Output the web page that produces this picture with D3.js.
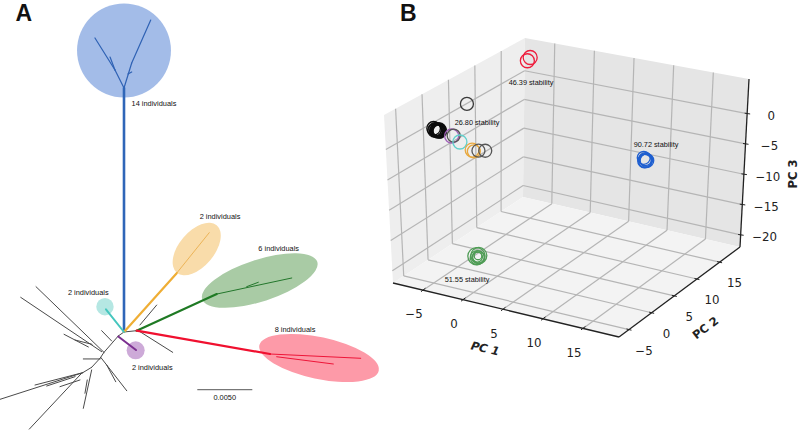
<!DOCTYPE html>
<html><head><meta charset="utf-8">
<script src="https://cdn.jsdelivr.net/npm/d3@7"></script>
<style>html,body{margin:0;padding:0;background:#fff}svg{display:block}</style>
</head><body><svg id="c" width="800" height="430"></svg>
<script>
// ---------- Panel A data: tree in units of 0.001 substitutions ----------
const cladeColors = ["#a3bce8","#b5e7e3","#cdaad8","#f9dcaa","#a9cba5","#fd9aa8"];
const cladeCx = [0,-1.73,1.06,6.61,12.34,17.73];
const cladeCy = [-25.59,-2.3,1.66,-7.55,-4.68,2.36];
const cladeRx = [4.27,0.79,0.82,2.82,5.5,5.55];
const cladeRy = [4.27,0.79,0.82,1.6,1.9,1.9];
const cladeTilt = [0,0,0,-50,-18,12];
const blackBranches = [
 [0,0,1.15,-.12],[0,0,-.52,.36],[-.52,.36,-1.82,1.85],[-1.82,1.85,-2.18,2.39],[-2.18,2.39,-2.94,3.21],
 [-1.82,1.85,-8,-4.12],[-2.03,1.79,-9.39,-3.15],[-3.24,1.36,-5.45,.21],[-2.91,1.12,-4.45,.73],
 [-2.03,-.12,-1.12,.82],[-3.7,2.45,-2.18,2.45],[-2.12,2.3,.25,5.34],[-1.57,3,-.75,4.52],
 [-2.94,3.21,-3.75,3.7],[-3.75,3.7,-11.27,6.12],[-3.75,3.7,-8.09,4.82],[-4.45,4.06,-7.03,4.91],
 [-4,4.36,-5.82,4.97],[-2.94,3.45,-3.7,6.94],[-3.34,4.36,-3.55,5.57],[-3.85,3.75,-8.61,8.83],
 [1.45,-.64,2.97,-2.45],[1.45,-.03,4.43,1.85]];
const thinBlue = [[0,-22.18,-.82,-23.82],[-.82,-23.82,-2.64,-26.73],[-.82,-23.82,-1.27,-25],[0,-22.18,.7,-24.45],[.7,-24.45,2.43,-28.36],[.36,-23.45,.7,-23.64]];
const thinOrange = [[4.79,-5.35,7.75,-9.03]];
const thinGreen = [[8.43,-3.45,15.25,-4.91],[11.15,-4.12,12.21,-4.52]];
const thinRed = [[13.27,2,21.52,2.39],[13.88,2.25,19.03,2.91]];
const stemBranches = [[0,-.05,0,-22.18],[0,0,4.79,-5.35],[1.15,-.12,8.43,-3.45],[1.15,-.12,13.27,2],[0,0,-1.64,-2.06],[-.52,.41,1.09,1.64]];
const stemColors = ["#2f66b8","#efae35","#1f7a24","#f0102f","#45c6be","#7b2f90"];
const treeLabels = ["14 individuals","2 individuals","6 individuals","8 individuals","2 individuals","2 individuals"];
const scaleBarUnits = 5;
const scaleBarLabel = "0.0050";

// ---------- Panel B data ----------
const ringGroup = ["red","red","black1","black","black","black","black","black","black","black","black","black","black","black","black",
 "purple","gray","teal","orange","orange","gray","gray",
 "blue","blue","blue","blue","blue","blue","green","green","green","green","green","green"];
const ringPc1 = [-6.3,-6.65,-3.81,-8.0,-7.9,-7.8,-7.7,-7.62,-7.55,-7.5,-7.45,-7.4,-7.35,-7.3,-7.25,
 -5.8,-5.55,-4.8,-3.3,-3.1,-2.53,-1.69,
 14.65,14.75,14.85,14.85,14.95,15.05,-.6,-.3,-.5,-.35,-.48,-.4];
const ringPc2 = [16.8,16.8,.81,.81,.81,.81,.81,.81,.81,.81,.81,.81,.81,.81,.81,
 .81,.81,.81,.81,.81,.81,.81,
 6.15,6.15,6.15,6.15,6.15,6.15,-3.2,-3.2,-3.2,-3.2,-3.2,-3.2];
const ringPc3 = [4.3,3.65,4.98,-.2,-.5,-.3,-.55,-.39,-.25,-.5,-.3,-.55,-.4,-.25,-.5,
 -.89,-.75,-1.61,-2.55,-2.7,-2.44,-2.22,
 -1.7,-2.2,-1.85,-2.15,-1.95,-2.05,-17.2,-17.0,-17.4,-17.25,-17.3,-17.1];
const ringRadius = [7,7,6.5,6.8,6.8,6.5,6.5,6.5,6.8,6.5,6.5,6.8,6.5,6.8,6.8,
 7,6.5,7,7,6.5,6.5,6.5,
 6.5,6.8,6.5,6.8,6.5,6.8,8.6,8,7,6,5,3.8];
const groupNames = ["red","black1","black","purple","teal","orange","gray","blue","green"];
const groupColors = ["#ee1c3c","#3a3a3a","#0c0c0c","#a060b8","#62d0cc","#e8a83e","#555555","#1f5fd0","#4f9c55"];
const stabilityLabels = ["46.39 stability","26.80 stability","90.72 stability","51.55 stability"];
const pc1Ticks = [-5,0,5,10,15];
const pc2Ticks = [-5,0,5,10,15];
const pc3Ticks = [0,-5,-10,-15,-20];

// ---------- Drawing ----------
const svg = d3.select("#c");
const sans = "'Liberation Sans',Arial,sans-serif", dj = "'DejaVu Sans',sans-serif";
const tx = d3.scaleLinear().domain([0,5]).range([124,179]);
const ty = d3.scaleLinear().domain([0,5]).range([332,387]);
const tr = v => tx(v)-tx(0);

const A = svg.append("g");
cladeColors.forEach((col,i)=>{
  A.append("ellipse").attr("cx",tx(cladeCx[i])).attr("cy",ty(cladeCy[i]))
   .attr("rx",tr(cladeRx[i])).attr("ry",tr(cladeRy[i])).attr("fill",col)
   .attr("transform",`rotate(${cladeTilt[i]} ${tx(cladeCx[i])} ${ty(cladeCy[i])})`);
});
function seg(list,color,w){
  A.append("g").selectAll("line").data(list).join("line")
   .attr("x1",d=>tx(d[0])).attr("y1",d=>ty(d[1])).attr("x2",d=>tx(d[2])).attr("y2",d=>ty(d[3]))
   .attr("stroke",color).attr("stroke-width",w).attr("stroke-linecap","round");
}
seg(blackBranches,"#4a4a4a",1);
seg(thinBlue,"#2f62b4",1.2);
seg(thinOrange,"#ecb458",1);
seg(thinGreen,"#23772c",1);
seg(thinRed,"#ee1538",1);
stemBranches.forEach((b,i)=>seg([b],stemColors[i],i===0?2.6:(i===4||i===5?2:2.2)));

const treeLabelX=[154,220,278.7,295,88.3,152.3], treeLabelY=[103,216.7,248,329.3,292,367.3];
treeLabels.forEach((t,i)=>A.append("text").text(t).attr("x",treeLabelX[i]).attr("y",treeLabelY[i]+2.5)
  .attr("text-anchor","middle").attr("font-family",sans).attr("font-size",7.4).attr("fill","#111"));
const barX=197.3;
A.append("line").attr("x1",barX).attr("x2",barX+tr(scaleBarUnits)).attr("y1",389.7).attr("y2",389.7).attr("stroke","#777").attr("stroke-width",1.2);
A.append("text").text(scaleBarLabel).attr("x",224.7).attr("y",399.5).attr("text-anchor","middle").attr("font-family",sans).attr("font-size",7.4).attr("fill","#111");
svg.append("text").text("A").attr("x",15.5).attr("y",21).attr("font-family",sans).attr("font-weight",700).attr("font-size",23).attr("fill","#111");
svg.append("text").text("B").attr("x",400).attr("y",21).attr("font-family",sans).attr("font-weight",700).attr("font-size",23).attr("fill","#111");

// Box corners (u,v,w) on screen
const C = {"000":[393,283],"100":[619,337],"010":[523,197],"110":[740,247],
           "001":[384,115],"101":[619,160],"011":[525,38],"111":[749,79]};
const su = d3.scaleLinear().domain([-8.75,19.5]).range([0,1]);
const sv = d3.scaleLinear().domain([-7.2,19.5]).range([0,1]);
const sw = d3.scaleLinear().domain([-22,5.7]).range([0,1]);
const [xMin,xMax]=su.domain(), [yMin,yMax]=sv.domain(), [zMin,zMax]=sw.domain();
function project(x,y,z){
  const u=su(x),v=sv(y),w=sw(z); const out=[0,0];
  for(const a of [0,1])for(const b of [0,1])for(const c of [0,1]){
    const k=(a?u:1-u)*(b?v:1-v)*(c?w:1-w), p=C[""+a+b+c];
    out[0]+=k*p[0]; out[1]+=k*p[1];
  }
  return out;
}
const B = svg.append("g");
const poly=(pts,fill)=>B.append("polygon").attr("points",pts.map(p=>p.join(",")).join(" ")).attr("fill",fill);
poly([project(xMin,yMin,zMin),project(xMin,yMax,zMin),project(xMin,yMax,zMax),project(xMin,yMin,zMax)],"#eeeeee");
poly([project(xMin,yMax,zMin),project(xMax,yMax,zMin),project(xMax,yMax,zMax),project(xMin,yMax,zMax)],"#e5e5e5");
poly([project(xMin,yMin,zMin),project(xMax,yMin,zMin),project(xMax,yMax,zMin),project(xMin,yMax,zMin)],"#f3f3f3");
const path3=(pts,col,w)=>{const p=pts.map(a=>project(...a));
  B.append("line").attr("x1",p[0][0]).attr("y1",p[0][1]).attr("x2",p[1][0]).attr("y2",p[1][1]).attr("stroke",col).attr("stroke-width",w);};
const grid="#b5b5b5";
pc1Ticks.forEach(x=>{path3([[x,yMin,zMin],[x,yMax,zMin]],grid,1.2);path3([[x,yMax,zMin],[x,yMax,zMax]],grid,1.2);});
pc2Ticks.forEach(y=>{path3([[xMin,y,zMin],[xMax,y,zMin]],grid,1.2);path3([[xMin,y,zMin],[xMin,y,zMax]],grid,1.2);});
pc3Ticks.forEach(z=>{path3([[xMin,yMin,z],[xMin,yMax,z]],grid,1.2);path3([[xMin,yMax,z],[xMax,yMax,z]],grid,1.2);});
const ax="#222";
path3([[xMin,yMin,zMin],[xMax,yMin,zMin]],ax,1.3);
path3([[xMax,yMin,zMin],[xMax,yMax,zMin]],ax,1.3);
path3([[xMax,yMax,zMin],[xMax,yMax,zMax]],ax,1.3);
const tick=(g,a,b)=>{B.append("line").attr("x1",a[0]).attr("y1",a[1]).attr("x2",b[0]).attr("y2",b[1]).attr("stroke",ax).attr("stroke-width",1);};
const lab=(t,x,y)=>B.append("text").text(String(t).replace("-","\u2212")).attr("x",x).attr("y",y+4.3)
  .attr("text-anchor","middle").attr("font-family",dj).attr("font-size",11.8).attr("fill","#222");
pc1Ticks.forEach(x=>{const a=project(x,yMin,zMin);tick(0,[a[0]-2,a[1]+1.5],[a[0]+2.5,a[1]-2]);lab(x,a[0]-9,a[1]+24);});
pc2Ticks.forEach(y=>{const a=project(xMax,y,zMin);tick(0,[a[0]-2.5,a[1]-.6],[a[0]+2.5,a[1]+.6]);lab(y,a[0]+15,a[1]+21);});
pc3Ticks.forEach(z=>{const a=project(xMax,yMax,z);tick(0,[a[0]-2.5,a[1]-.4],[a[0]+3,a[1]+.4]);lab(z,a[0]+24,a[1]+2.2);});
const axisTitle=(t,x,y,rot,style)=>B.append("text").text(t).attr("text-anchor","middle").attr("dominant-baseline","middle")
  .attr("font-family",dj).attr("font-weight",700).attr("font-size",11.5).attr("font-style",style||"normal").attr("fill","#222")
  .attr("transform",`translate(${x},${y}) rotate(${rot})`);
axisTitle("PC 1",485,349,13,"oblique");
axisTitle("PC 2",705.7,328.3,-37);
axisTitle("PC 3",793.3,174,-90);

const colorOf = d3.scaleOrdinal().domain(groupNames).range(groupColors);
B.append("g").selectAll("circle").data(ringGroup).join("circle")
 .attr("cx",(d,i)=>project(ringPc1[i],ringPc2[i],ringPc3[i])[0])
 .attr("cy",(d,i)=>project(ringPc1[i],ringPc2[i],ringPc3[i])[1])
 .attr("r",(d,i)=>ringRadius[i]).attr("fill","none").attr("stroke",d=>colorOf(d)).attr("stroke-width",1.3);
const stabX=[531,477,656,467], stabY=[82,122,144,279];
stabilityLabels.forEach((t,i)=>B.append("text").text(t).attr("x",stabX[i]).attr("y",stabY[i]+2.5)
  .attr("text-anchor","middle").attr("font-family",sans).attr("font-size",7.3).attr("fill","#111"));
</script></body></html>
